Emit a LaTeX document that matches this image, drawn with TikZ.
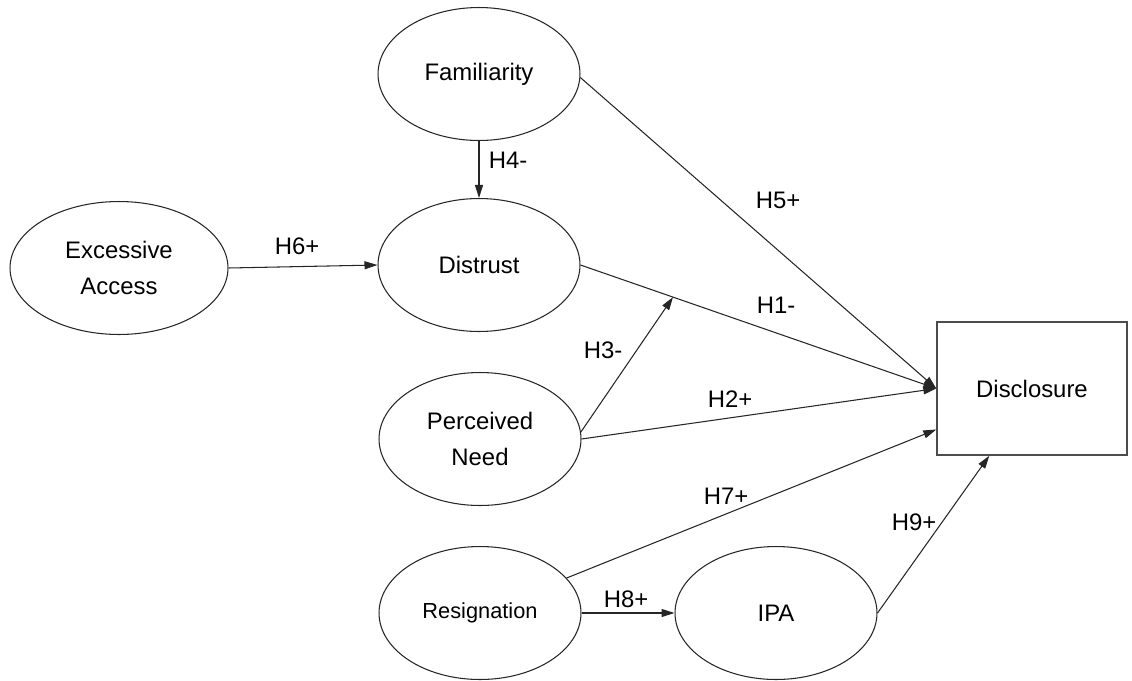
\documentclass[tikz,border=0pt]{standalone}
\usepackage{fontspec}
\setmainfont{Liberation Sans}
\usetikzlibrary{arrows.meta,calc,shapes.geometric}
\tikzset{
  construct/.style={draw=black!85,ellipse,line width=0.6pt,minimum width=4.04cm,
    minimum height=2.66cm,inner sep=0pt,align=center,font=\fontsize{13.6}{20}\selectfont},
  outcome/.style={draw=black!70,rectangle,line width=0.8pt,minimum width=3.8cm,
    minimum height=2.66cm,font=\fontsize{13.6}{20}\selectfont},
  hyp/.style={inner sep=0pt,font=\fontsize{13.6}{16}\selectfont},
  link/.style={draw=black!85,line width=0.6pt,-{Triangle[length=2.6mm,width=1.6mm]}}
}

\begin{document}
\begin{tikzpicture}[x=0.02cm,y=-0.02cm]
  \useasboundingbox (0,0) rectangle (1132,680);
  % constructs
  \node[construct] (fam) at (479,74) {Familiarity};
  \node[construct] (dst) at (479,265) {Distrust};
  \node[construct,minimum width=4.36cm] (exc) at (119,268) {Excessive\\Access};
  \node[construct] (need) at (480,439) {Perceived\\Need};
  \node[construct,font=\fontsize{12.4}{16}\selectfont] (res) at (480,613) {Resignation};
  \node[construct] (ipa) at (776,613) {IPA};
  \node[outcome] (dis) at (1032,388.5) {Disclosure};
  % paths
  \draw[link] (exc.east) -- (dst.west);
  \draw[link] (fam.south) -- (dst.north);
  \draw[link] (fam.-2) -- (dis.west);
  \draw[link] (dst.east) -- (dis.west);
  \draw[link] (need.east) -- (dis.west);
  \draw[link] (need.4) -- ($(dst.east)!0.26!(dis.west)$);
  \draw[link] (res.22) -- ([yshift=-0.82cm]dis.west);
  \draw[link] (res.east) -- (ipa.west);
  \draw[link] (ipa.east) -- ([xshift=1.06cm]dis.south west);
  % hypotheses
  \node[hyp] (h1) at (776,305) {H1-};
  \node[hyp] (h2) at (730,399) {H2+};
  \node[hyp] (h3) at (603,350) {H3-};
  \node[hyp] (h4) at (508,160) {H4-};
  \node[hyp] (h5) at (778,200) {H5+};
  \node[hyp] (h6) at (297,246) {H6+};
  \node[hyp] (h7) at (726,496) {H7+};
  \node[hyp] (h8) at (626,599) {H8+};
  \node[hyp] (h9) at (914,522) {H9+};
\end{tikzpicture}
\end{document}
